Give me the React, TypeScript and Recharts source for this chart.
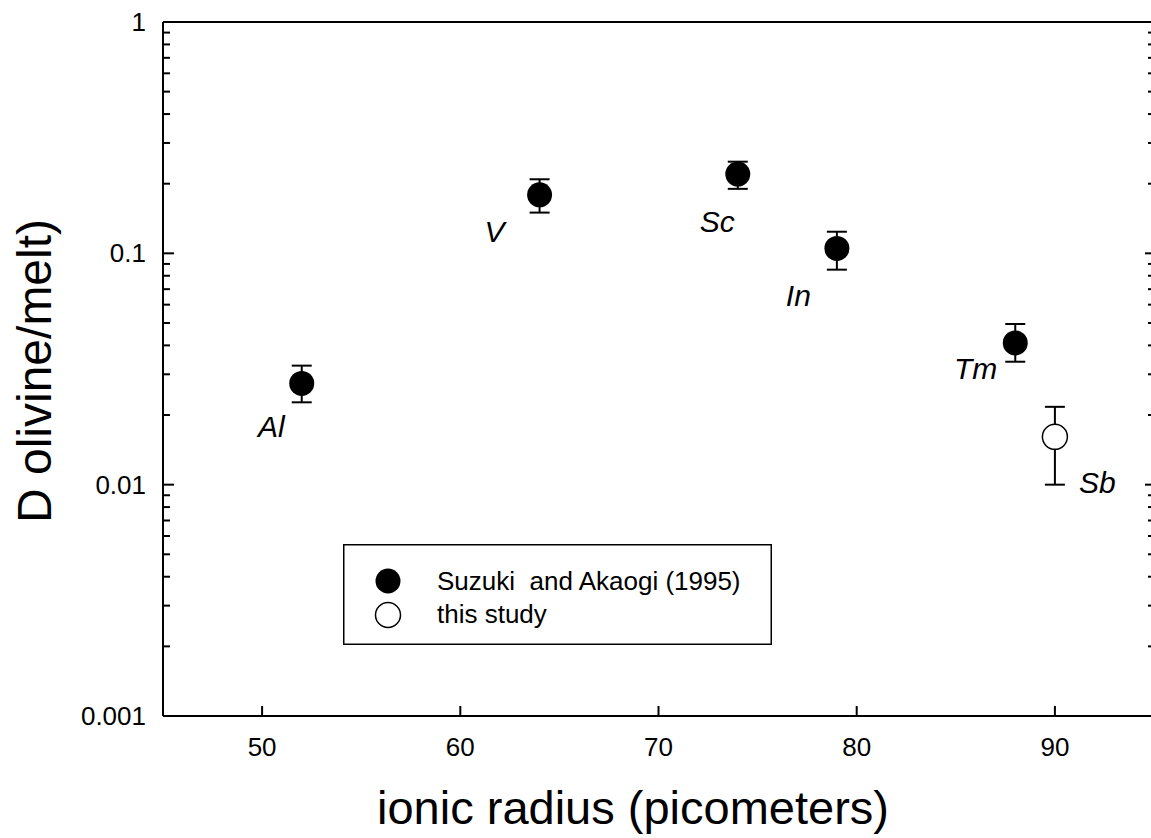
import React from "react";
import { ScatterChart, Scatter, XAxis, YAxis, ErrorBar, LabelList, Legend } from "recharts";

// Suzuki and Akaogi (1995)
const ELEMENTS = ["Al", "V", "Sc", "In", "Tm"];
const RADIUS = [52, 64, 74, 79, 88];
const D_VALUE = [0.0274, 0.179, 0.22, 0.105, 0.041];
const D_LOW = [0.0227, 0.15, 0.19, 0.085, 0.034];
const D_HIGH = [0.0327, 0.209, 0.249, 0.124, 0.0495];

// this study
const STUDY_ELEMENTS = ["Sb"];
const STUDY_RADIUS = [90];
const STUDY_D = [0.0161];
const STUDY_LOW = [0.01];
const STUDY_HIGH = [0.0217];

const X_TICKS = [50, 60, 70, 80, 90];
const Y_MAJOR = [0.001, 0.01, 0.1, 1];
const Y_MINOR_STEPS = [2, 3, 4, 5, 6, 7, 8, 9];

const SERIES_NAMES = ["Suzuki  and Akaogi (1995)", "this study"];

const FONT = "'Liberation Sans', Arial, Helvetica, sans-serif";

const toRows = (names: string[], xs: number[], ys: number[], lo: number[], hi: number[]) =>
  names.map((name, i) => ({ name, x: xs[i], y: ys[i], err: [ys[i] - lo[i], hi[i] - ys[i]] }));

const suzukiRows = toRows(ELEMENTS, RADIUS, D_VALUE, D_LOW, D_HIGH);
const studyRows = toRows(STUDY_ELEMENTS, STUDY_RADIUS, STUDY_D, STUDY_LOW, STUDY_HIGH);

const Y_TICKS = [
  ...Y_MAJOR,
  ...Y_MAJOR.slice(0, 3).flatMap((d) => Y_MINOR_STEPS.map((s) => +(d * s).toPrecision(3))),
];

// where each element name sits relative to its marker
const LABEL_POS: Record<string, { dx: number; dy: number; anchor: "start" | "end" }> = {
  Al: { dx: -17, dy: 54, anchor: "end" },
  V: { dx: -35, dy: 47, anchor: "end" },
  Sc: { dx: -3, dy: 58, anchor: "end" },
  In: { dx: -26, dy: 58, anchor: "end" },
  Tm: { dx: -18, dy: 36, anchor: "end" },
  Sb: { dx: 24, dy: 56, anchor: "start" },
};

const isMajor = (v: number) => Y_MAJOR.includes(v);

function LeftTick(props: any) {
  const { x, y, payload } = props;
  const major = isMajor(payload.value);
  return (
    <g>
      <line x1={x} x2={x + (major ? 11 : 7)} y1={y} y2={y} stroke="#000" strokeWidth={2} />
      {major && (
        <text x={x - 17} y={y} textAnchor="end" dominantBaseline="central" fontSize={26} fontFamily={FONT} fill="#000">
          {String(payload.value)}
        </text>
      )}
    </g>
  );
}

function RightTick(props: any) {
  const { x, y, payload } = props;
  const major = isMajor(payload.value);
  return <line x1={x} x2={x - (major ? 9 : 6)} y1={y} y2={y} stroke="#000" strokeWidth={2} />;
}

function BottomTick(props: any) {
  const { x, y, payload } = props;
  return (
    <g>
      <line x1={x} x2={x} y1={y} y2={y - 10} stroke="#000" strokeWidth={2} />
      <text x={x} y={y + 40} textAnchor="middle" fontSize={26} fontFamily={FONT} fill="#000">
        {payload.value}
      </text>
    </g>
  );
}

function TopTick(props: any) {
  const { x, y } = props;
  return <line x1={x} x2={x} y1={y} y2={y + 11} stroke="#000" strokeWidth={2} />;
}

function PointLabel(props: any) {
  const vb = props.viewBox || props;
  const cx = vb.x + (vb.width || 0) / 2;
  const cy = vb.y + (vb.height || 0) / 2;
  const pos = LABEL_POS[props.value];
  if (!pos) return null;
  return (
    <text x={cx + pos.dx} y={cy + pos.dy} textAnchor={pos.anchor} fontSize={30} fontStyle="italic" fontFamily={FONT} fill="#000">
      {props.value}
    </text>
  );
}

const FilledDot = (p: any) => <circle cx={p.cx} cy={p.cy} r={12.5} fill="#000" />;
const OpenDot = (p: any) => <circle cx={p.cx} cy={p.cy} r={12.5} fill="#fff" stroke="#000" strokeWidth={1.5} />;

function LegendBox() {
  return (
    <svg width={429} height={101} style={{ display: "block" }}>
      <rect x={0.75} y={0.75} width={427.5} height={99.5} fill="#fff" stroke="#000" strokeWidth={1.5} />
      <circle cx={45} cy={37} r={12.5} fill="#000" />
      <circle cx={45} cy={71} r={12.5} fill="#fff" stroke="#000" strokeWidth={1.5} />
      <text x={94} y={37} dominantBaseline="central" fontSize={26} fontFamily={FONT} fill="#000" xmlSpace="preserve">
        {SERIES_NAMES[0]}
      </text>
      <text x={94} y={70} dominantBaseline="central" fontSize={26} fontFamily={FONT} fill="#000">
        {SERIES_NAMES[1]}
      </text>
    </svg>
  );
}

const YTitle = () => (
  <text transform="translate(51,371) rotate(-90)" textAnchor="middle" fontSize={48} fontFamily={FONT} fill="#000">
    D olivine/melt)
  </text>
);

const XTitle = () => (
  <text x={633} y={824} textAnchor="middle" fontSize={47} fontFamily={FONT} fill="#000">
    ionic radius (picometers)
  </text>
);

export default function App() {
  return (
    <div style={{ position: "fixed", left: 0, top: 0, width: 1151, height: 838, overflow: "hidden", background: "#fff" }}>
      <ScatterChart width={1165} height={838} margin={{ top: 21, right: 10, bottom: 0, left: 0 }}>
        <XAxis
          xAxisId="bottom"
          dataKey="x"
          type="number"
          domain={[45, 95]}
          ticks={X_TICKS}
          interval={0}
          height={122}
          tickSize={0}
          tickMargin={0}
          tickLine={false}
          axisLine={{ stroke: "#000", strokeWidth: 2 }}
          tick={<BottomTick />}
          label={<XTitle />}
          allowDataOverflow
        />
        <XAxis
          xAxisId="top"
          orientation="top"
          type="number"
          domain={[45, 95]}
          ticks={X_TICKS}
          interval={0}
          height={1}
          tickSize={0}
          tickMargin={0}
          tickLine={false}
          axisLine={{ stroke: "#000", strokeWidth: 2 }}
          tick={<TopTick />}
          allowDataOverflow
        />
        <YAxis
          yAxisId="left"
          dataKey="y"
          type="number"
          scale="log"
          domain={[0.001, 1]}
          ticks={Y_TICKS}
          interval={0}
          width={163}
          tickSize={0}
          tickMargin={0}
          tickLine={false}
          axisLine={{ stroke: "#000", strokeWidth: 2 }}
          tick={<LeftTick />}
          label={<YTitle />}
          allowDataOverflow
        />
        <YAxis
          yAxisId="right"
          orientation="right"
          type="number"
          scale="log"
          domain={[0.001, 1]}
          ticks={Y_TICKS}
          interval={0}
          width={1}
          tickSize={0}
          tickMargin={0}
          tickLine={false}
          axisLine={false}
          tick={<RightTick />}
          allowDataOverflow
        />
        <Legend
          layout="horizontal"
          verticalAlign="middle"
          align="center"
          wrapperStyle={{ position: "absolute", left: 343, top: 544, width: 429, height: 101 }}
          content={() => <LegendBox />}
        />
        <Scatter
          name={SERIES_NAMES[0]}
          data={suzukiRows}
          xAxisId="bottom"
          yAxisId="left"
          shape={FilledDot}
          isAnimationActive={false}
        >
          <ErrorBar dataKey="err" direction="y" width={10} stroke="#000" strokeWidth={2} isAnimationActive={false} />
          <LabelList dataKey="name" content={<PointLabel />} />
        </Scatter>
        <Scatter
          name={SERIES_NAMES[1]}
          data={studyRows}
          xAxisId="bottom"
          yAxisId="left"
          shape={OpenDot}
          isAnimationActive={false}
        >
          <ErrorBar dataKey="err" direction="y" width={10} stroke="#000" strokeWidth={2} isAnimationActive={false} />
          <LabelList dataKey="name" content={<PointLabel />} />
        </Scatter>
      </ScatterChart>
    </div>
  );
}
